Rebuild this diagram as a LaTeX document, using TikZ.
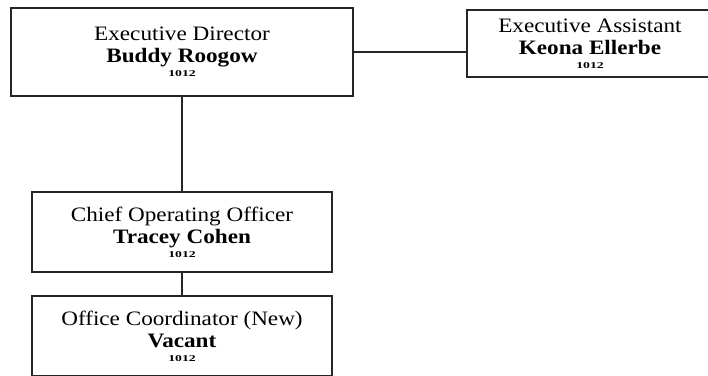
\documentclass[tikz,border=0pt]{standalone}
\usepackage{fontspec}
\usepackage{graphicx}
\setmainfont{Liberation Serif}[FakeStretch=1.13]
\newcommand{\tinycode}{{\fontsize{9}{9}\selectfont\bfseries\scalebox{1.35}[1]{1012}}}
\begin{document}
\begin{tikzpicture}[x=1pt,y=-1pt]
\tikzset{
  box/.style={draw=black!85, line width=1.5pt, inner sep=0pt, align=center,
    font=\fontsize{20.5}{22}\selectfont},
  link/.style={draw=black!85, line width=1.4pt}
}
\useasboundingbox (0,0) rectangle (708,375);
\node[box, minimum width=342pt, minimum height=88pt] (ed) at (182,52)
  {Executive Director\\\textbf{Buddy Roogow}\\[-8pt]\tinycode};
\node[box, minimum width=246pt, minimum height=67pt] (ea) at (590,43.5)
  {Executive Assistant\\\textbf{Keona Ellerbe}\\[-8pt]\tinycode};
\node[box, minimum width=300pt, minimum height=80pt] (coo) at (182,232)
  {Chief Operating Officer\\\textbf{Tracey Cohen}\\[-8pt]\tinycode};
\node[box, minimum width=300pt, minimum height=80pt] (oc) at (182,336)
  {Office Coordinator (New)\\\textbf{Vacant}\\[-8pt]\tinycode};
\draw[link] (ed.east) -- (ed.east -| ea.west);
\draw[link] (ed.south) -- (coo.north);
\draw[link] (coo.south) -- (oc.north);
\end{tikzpicture}
\end{document}
